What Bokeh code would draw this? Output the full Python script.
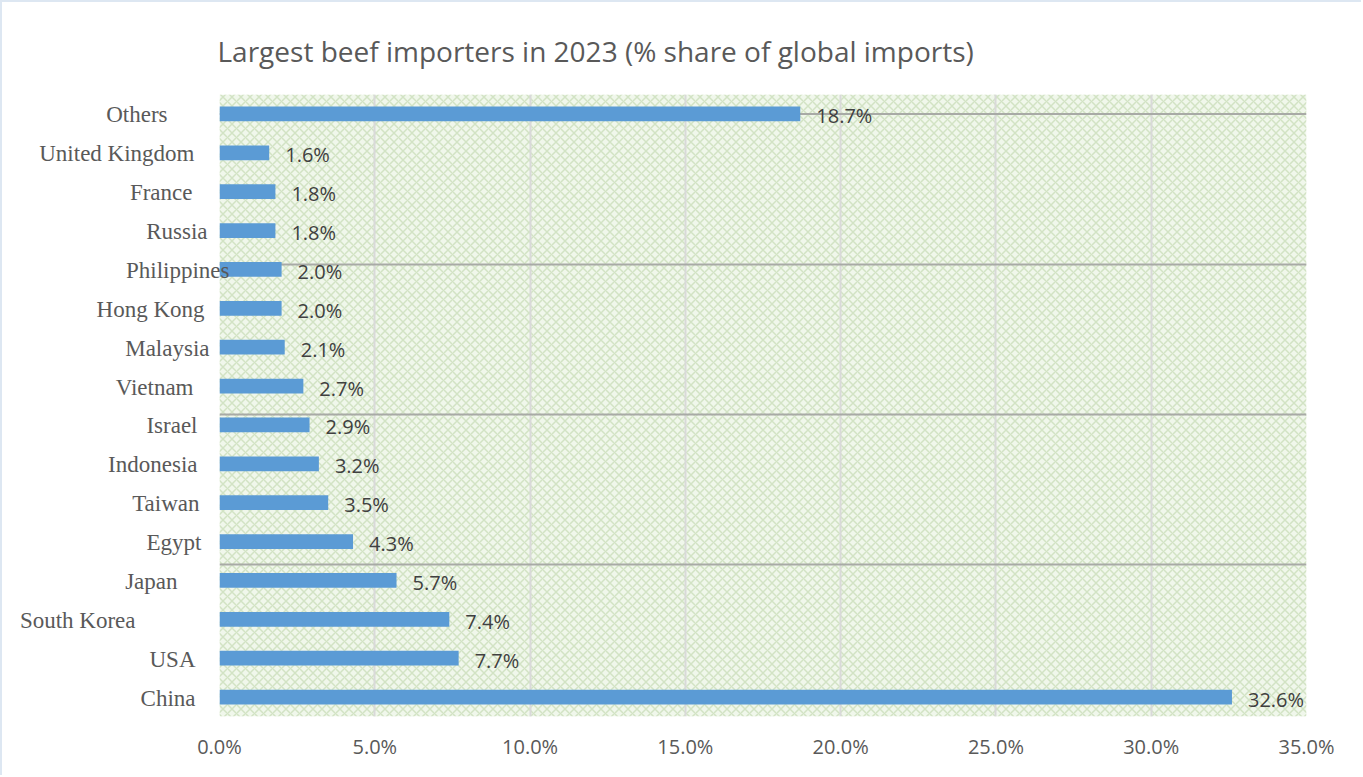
from bokeh.plotting import figure
from bokeh.models import Range1d, BoxAnnotation, Span, FixedTicker, PrintfTickFormatter, ColumnDataSource
from bokeh.core.properties import value
from bokeh.embed import file_html
from bokeh.resources import INLINE

# ---- data (top to bottom as displayed) ----
countries = ["Others", "United Kingdom", "France", "Russia", "Philippines", "Hong Kong",
             "Malaysia", "Vietnam", "Israel", "Indonesia", "Taiwan", "Egypt", "Japan",
             "South Korea", "USA", "China"]
shares = [18.7, 1.6, 1.8, 1.8, 2.0, 2.0, 2.1, 2.7, 2.9, 3.2, 3.5, 4.3, 5.7, 7.4, 7.7, 32.6]
x_ticks = [0, 5, 10, 15, 20, 25, 30, 35]
title_text = "Largest beef importers in 2023 (% share of global imports)"

# ---- layout / style ----
# right edge of each category label in screen px, relative to the frame's left edge
label_dx = [-52, -25, -27, -12, 10, -15, -10, -26, -22, -22, -20, -18, -42, -84, -24, -24]

BORDER = 2
W, H = 1363 - BORDER, 777 - BORDER
FL, FR, FT, FB = 219 - BORDER, 57, 94 - BORDER, 61
n = len(countries)
ypos = [n - 1 - i for i in range(n)]

src = ColumnDataSource(dict(
    y=ypos, v=shares, name=countries, dx=label_dx,
    lab=["%.1f%%" % s for s in shares], zero=[0] * n,
))

p = figure(width=W, height=H, output_backend="svg", toolbar_location=None,
           x_range=Range1d(x_ticks[0], x_ticks[-1]), y_range=Range1d(-0.5, n - 0.5),
           min_border_left=FL, min_border_right=FR, min_border_top=FT, min_border_bottom=FB)
p.outline_line_color = None
p.background_fill_color = "white"
p.border_fill_color = "white"

# title
p.title.text = title_text
p.title.text_font = "Open Sans"
p.title.text_font_size = "28px"
p.title.text_font_style = "normal"
p.title.text_color = "#595959"
p.title.align = "left"
p.title.offset = -2
p.title.standoff = 49

# patterned background
bg = BoxAnnotation(fill_color="#f0f7eb", fill_alpha=1.0, line_color=None,
                   hatch_pattern="x", hatch_color="#d2e3c4", hatch_scale=9,
                   hatch_weight=1.5, hatch_alpha=1.0, level="image")
p.add_layout(bg)

# texture seam lines (pixel positions converted to data units)
frame_h = 777 - 94 - FB
for py in [113.5, 264, 414, 564]:
    yd = (n - 0.5) - (py - 94) / frame_h * n
    p.add_layout(Span(location=yd, dimension="width", line_color="#a8aaa6",
                      line_width=2, level="underlay"))

# axes
p.yaxis.visible = False
p.xaxis.ticker = FixedTicker(ticks=x_ticks)
p.xaxis.formatter = PrintfTickFormatter(format="%.1f%%")
p.xaxis.axis_line_color = None
p.xaxis.major_tick_line_color = None
p.xaxis.minor_tick_line_color = None
p.xaxis.major_label_text_font = "Open Sans"
p.xaxis.major_label_text_font_size = "20px"
p.xaxis.major_label_text_color = "#595959"
p.xaxis.major_label_standoff = 10

p.xgrid.grid_line_color = "#d9d9d9"
p.xgrid.grid_line_width = 2
p.ygrid.grid_line_color = None

# bars
p.hbar(y="y", left="zero", right="v", height=0.38, source=src,
       fill_color="#5b9bd5", line_color=None)

# value labels
p.text(x="v", y="y", text="lab", source=src, x_offset=16, y_offset=2,
       text_align="left", text_baseline="middle",
       text_font=value("Open Sans"), text_font_size="20px", text_color="#404040")

# category labels
cl = p.text(x="zero", y="y", text="name", source=src, x_offset="dx", y_offset=1,
            text_align="right", text_baseline="middle",
            text_font=value("Liberation Serif"), text_font_size="23px", text_color="#595959")
cl.level = "annotation"

p.styles = {"border-left": "2px solid #dde7f2", "border-top": "2px solid #dde7f2"}

open("out.html", "w").write(file_html(p, INLINE))
